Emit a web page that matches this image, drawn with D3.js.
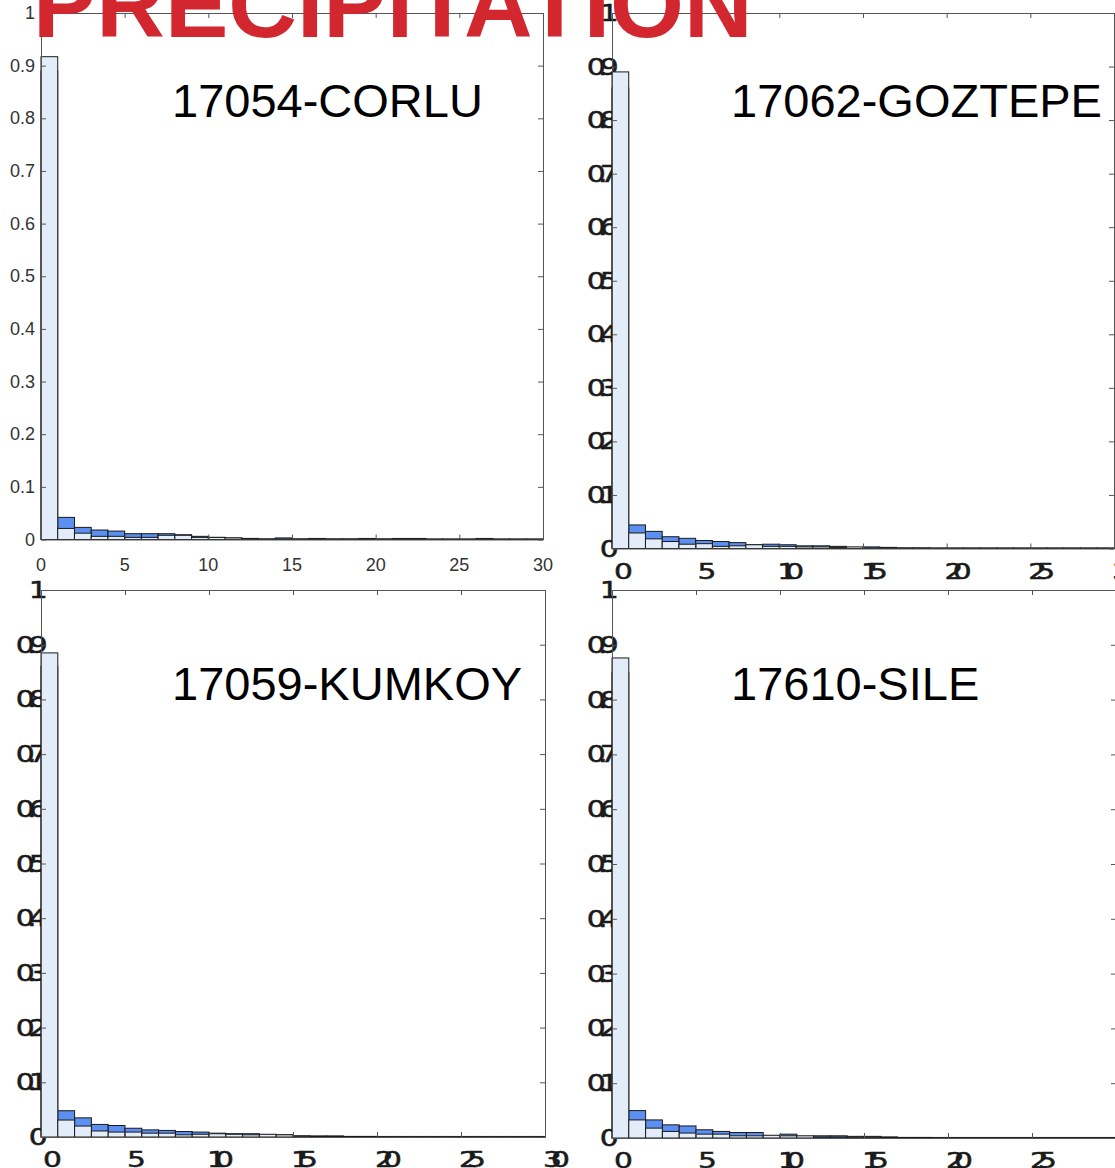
<!DOCTYPE html>
<html lang="en">
<head>
  <meta charset="UTF-8">
  <title>Precipitation histograms</title>
  <script src="https://cdn.jsdelivr.net/npm/d3@7"></script>
  <style>
    body { margin: 0; background: #fff; }
    svg { display: block; }
  </style>
</head>
<body>
  <div id="main"></div>
  <script>
    // 站名
    var stations = ["17054-CORLU", "17062-GOZTEPE", "17059-KUMKOY", "17610-SILE"];
    var xTicks = [0, 5, 10, 15, 20, 25, 30];
    var yTicks = [0, 0.1, 0.2, 0.3, 0.4, 0.5, 0.6, 0.7, 0.8, 0.9, 1];

    // light series (front), one value per 1-unit bin 0..29
    var lightCorlu = [0.917, 0.021, 0.012, 0.006, 0.006, 0.004, 0.004, 0.008, 0.008, 0.004, 0.004, 0.003, 0.002, 0.001, 0.001,
      0.001, 0.001, 0.001, 0.001, 0.001, 0.001, 0.0005, 0.0005, 0.0005, 0.0005, 0.0005, 0.0005, 0.0005, 0.0005, 0.0005];
    var lightGoztepe = [0.89, 0.029, 0.018, 0.013, 0.008, 0.009, 0.004, 0.005, 0.007, 0.004, 0.004, 0.003, 0.003, 0.002, 0.003,
      0.001, 0.002, 0.001, 0.001, 0.0005, 0.0005, 0.0005, 0.0005, 0.0005, 0.0005, 0.0005, 0.0005, 0.0005, 0.0005, 0.0005];
    var lightKumkoy = [0.885, 0.031, 0.020, 0.011, 0.009, 0.009, 0.007, 0.007, 0.004, 0.005, 0.006, 0.005, 0.004, 0.005, 0.004,
      0.002, 0.001, 0.001, 0.001, 0.001, 0.0005, 0.0005, 0.0005, 0.0005, 0.0005, 0.0005, 0.0005, 0.0005, 0.0005, 0.0005];
    var lightSile = [0.876, 0.033, 0.018, 0.012, 0.009, 0.007, 0.007, 0.004, 0.004, 0.005, 0.004, 0.004, 0.002, 0.002, 0.002,
      0.002, 0.001, 0.001, 0.001, 0.0005, 0.0005, 0.0005, 0.0005, 0.0005, 0.0005, 0.0005, 0.0005, 0.0005, 0.0005, 0.0005];

    // blue series (behind)
    var blueCorlu = [0.89, 0.042, 0.023, 0.018, 0.016, 0.011, 0.011, 0.011, 0.009, 0.006, 0.004, 0.003, 0.002, 0.001, 0.003,
      0.001, 0.002, 0.001, 0.001, 0.002, 0.001, 0.002, 0.002, 0.001, 0.001, 0.001, 0.002, 0.001, 0.001, 0.001];
    var blueGoztepe = [0.86, 0.044, 0.032, 0.022, 0.019, 0.015, 0.013, 0.011, 0.007, 0.008, 0.007, 0.005, 0.005, 0.004, 0.002,
      0.003, 0.002, 0.001, 0.001, 0.001, 0.001, 0.001, 0.001, 0.001, 0.001, 0.001, 0.001, 0.001, 0.001, 0.001];
    var blueKumkoy = [0.86, 0.048, 0.035, 0.023, 0.021, 0.016, 0.013, 0.012, 0.010, 0.009, 0.007, 0.006, 0.006, 0.004, 0.004,
      0.002, 0.002, 0.002, 0.001, 0.001, 0.001, 0.001, 0.001, 0.001, 0.001, 0.001, 0.001, 0.001, 0.001, 0.001];
    var blueSile = [0.85, 0.050, 0.033, 0.024, 0.022, 0.015, 0.012, 0.010, 0.010, 0.004, 0.007, 0.003, 0.004, 0.004, 0.003,
      0.003, 0.002, 0.001, 0.001, 0.001, 0.001, 0.001, 0.001, 0.001, 0.001, 0.001, 0.001, 0.001, 0.001, 0.001];

    var lightSeries = [lightCorlu, lightGoztepe, lightKumkoy, lightSile];
    var blueSeries = [blueCorlu, blueGoztepe, blueKumkoy, blueSile];

    var width = 1115, height = 1168;
    var lightColor = "#e3edf9";
    var blueColor = "#5b8ff0";

    // 面板位置 (left, right, top, bottom), label style
    var panels = [
      { l: 41, r: 543, t: 13, b: 539.5, odd: false, tx: 172, ty: 117 },
      { l: 612, r: 1114, t: 13, b: 548.5, odd: true, tx: 731, ty: 117 },
      { l: 41, r: 545, t: 590, b: 1137, odd: true, tx: 172, ty: 700 },
      { l: 612, r: 1116, t: 590, b: 1138, odd: true, tx: 731, ty: 700 }
    ];

    var svg = d3.select("#main").append("svg")
      .attr("width", width)
      .attr("height", height);

    panels.forEach(function (p, k) {
      var x = d3.scaleLinear().domain([0, 30]).range([p.l, p.r]);
      var y = d3.scaleLinear().domain([0, 1]).range([p.b, p.t]);
      var g = svg.append("g");
      var fmt = d3.format("~g");

      if (p.odd) {
        // squashed, overlapping labels
        g.selectAll(".ylab").data(yTicks).enter().append("text")
          .attr("transform", function (d) { return "translate(" + (p.l - 1) + "," + (y(d) + 8) + ") scale(1.3,1)"; })
          .attr("text-anchor", "end")
          .attr("font-family", "'DejaVu Sans', sans-serif")
          .attr("font-size", 23)
          .attr("letter-spacing", -6)
          .attr("stroke", "#1a1a1a")
          .attr("stroke-width", 0.5)
          .attr("fill", "#1a1a1a")
          .text(function (d) { return fmt(d); });

        g.selectAll(".xlab").data(xTicks).enter().append("text")
          .attr("transform", function (d) { return "translate(" + (x(d) + 6) + "," + (p.b + 30) + ") scale(1.35,1)"; })
          .attr("text-anchor", "middle")
          .attr("font-family", "'DejaVu Sans', sans-serif")
          .attr("font-size", 22)
          .attr("letter-spacing", -8)
          .attr("stroke", "#1a1a1a")
          .attr("stroke-width", 0.5)
          .attr("fill", "#1a1a1a")
          .text(function (d) { return d; });
      } else {
        g.selectAll(".ylab").data(yTicks).enter().append("text")
          .attr("x", p.l - 6)
          .attr("y", function (d) { return y(d) + 6; })
          .attr("text-anchor", "end")
          .attr("font-family", "'Liberation Sans Narrow', 'Liberation Sans', sans-serif")
          .attr("font-size", 18)
          .attr("fill", "#333")
          .text(function (d) { return fmt(d); });

        g.selectAll(".xlab").data(xTicks).enter().append("text")
          .attr("x", function (d) { return x(d); })
          .attr("y", p.b + 31)
          .attr("text-anchor", "middle")
          .attr("font-family", "'Liberation Sans Narrow', 'Liberation Sans', sans-serif")
          .attr("font-size", 18)
          .attr("fill", "#333")
          .text(function (d) { return d; });
      }

      var bins = d3.range(30);

      // 蓝色柱 (后面)
      g.selectAll(".blue").data(bins).enter().append("rect")
        .attr("x", function (i) { return x(i); })
        .attr("width", function (i) { return x(i + 1) - x(i); })
        .attr("y", function (i) { return y(blueSeries[k][i]); })
        .attr("height", function (i) { return y(0) - y(blueSeries[k][i]); })
        .attr("fill", blueColor)
        .attr("stroke", "#1a1a1a")
        .attr("stroke-width", 1);

      // 浅色柱 (前面)
      g.selectAll(".light").data(bins).enter().append("rect")
        .attr("x", function (i) { return x(i); })
        .attr("width", function (i) { return x(i + 1) - x(i); })
        .attr("y", function (i) { return y(lightSeries[k][i]); })
        .attr("height", function (i) { return y(0) - y(lightSeries[k][i]); })
        .attr("fill", lightColor)
        .attr("stroke", "#1a1a1a")
        .attr("stroke-width", 1);

      // inward ticks on all four sides
      var axes = [
        { a: d3.axisBottom(x).tickValues(xTicks), tr: "translate(0," + p.b + ")" },
        { a: d3.axisTop(x).tickValues(xTicks), tr: "translate(0," + p.t + ")" },
        { a: d3.axisLeft(y).tickValues(yTicks), tr: "translate(" + p.l + ",0)" },
        { a: d3.axisRight(y).tickValues(yTicks), tr: "translate(" + p.r + ",0)" }
      ];
      axes.forEach(function (ax) {
        var ag = g.append("g")
          .attr("transform", ax.tr)
          .call(ax.a.tickSizeInner(-5).tickSizeOuter(0).tickFormat(""));
        ag.select(".domain").attr("stroke", "#555");
        ag.selectAll(".tick line").attr("stroke", "#555");
      });

      // 站名
      g.append("text")
        .attr("x", p.tx)
        .attr("y", p.ty)
        .attr("font-family", "'Liberation Sans', Arial, sans-serif")
        .attr("font-size", 47)
        .attr("fill", "#000")
        .text(stations[k]);
    });

    // big title, drawn over everything
    svg.append("text")
      .attr("x", 33)
      .attr("y", 37)
      .attr("font-family", "'Liberation Sans', Arial, sans-serif")
      .attr("font-weight", "bold")
      .attr("font-size", 95)
      .attr("fill", "#d3272f")
      .text("PRECIPITATION");
  </script>
</body>
</html>
